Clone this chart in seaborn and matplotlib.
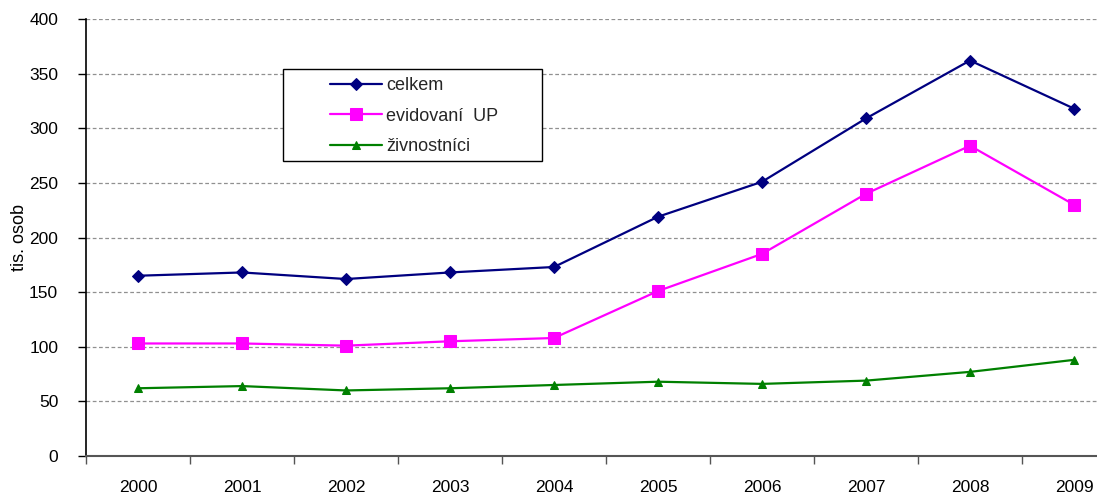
import matplotlib
matplotlib.use("Agg")
import matplotlib.pyplot as plt
import seaborn as sns
import pandas as pd
from matplotlib.patches import Rectangle
from matplotlib.ticker import MultipleLocator, FixedLocator

years = [2000, 2001, 2002, 2003, 2004, 2005, 2006, 2007, 2008, 2009]
celkem = [165, 168, 162, 168, 173, 219, 251, 309, 362, 318]
evidovani_up = [103, 103, 101, 105, 108, 151, 185, 240, 284, 230]
zivnostnici = [62, 64, 60, 62, 65, 68, 66, 69, 77, 88]

series_names = ["celkem", "evidovaní  UP", "živnostníci"]
series_values = [celkem, evidovani_up, zivnostnici]
colors = ["#000080", "#FF00FF", "#008000"]
markers = ["D", "s", "^"]
msizes = [6, 8, 6]

sns.set_style("white")
plt.rcParams["font.family"] = ["Liberation Sans", "DejaVu Sans"]

fig = plt.figure(figsize=(10.97, 4.94), dpi=100)
ax = fig.add_axes([86 / 1097, 38 / 494, 1040 / 1097, 437 / 494])

for name, vals, c, m, ms in zip(series_names, series_values, colors, markers, msizes):
    df = pd.DataFrame({"rok": years, "hodnota": vals})
    sns.lineplot(data=df, x="rok", y="hodnota", ax=ax, color=c, marker=m,
                 markersize=ms, markeredgecolor=c, linewidth=1.6, label=name)

ax.set_xlim(1999.5, 2009.5)
ax.set_ylim(0, 400)
ax.yaxis.set_major_locator(MultipleLocator(50))
ax.xaxis.set_major_locator(FixedLocator(years))
ax.xaxis.set_minor_locator(FixedLocator([y - 0.5 for y in years]))
ax.set_xticklabels([str(y) for y in years])
ax.tick_params(axis="x", which="major", bottom=True, length=0, pad=17, labelsize=12.5,
               labelcolor="#000000")
ax.tick_params(axis="x", which="minor", bottom=True, length=6, width=1, color="#555555",
               direction="out")
ax.tick_params(axis="y", which="major", left=True, length=6, width=1, color="#000000",
               direction="out", pad=14, labelsize=12.5, labelcolor="#000000")

ax.set_xlabel("")
ax.set_ylabel("tis. osob", fontsize=13, labelpad=1, color="#000000")

ax.grid(axis="y", linestyle=(0, (3, 2)), color="#909090", linewidth=0.9)
ax.grid(axis="x", visible=False)
for s in ["top", "right"]:
    ax.spines[s].set_visible(False)
ax.spines["left"].set_color("#000000")
ax.spines["left"].set_linewidth(1.2)
ax.spines["bottom"].set_color("#555555")
ax.spines["bottom"].set_linewidth(1.5)

# legend box
x0 = (283 - 86) / 1040
y0 = (456 - 161) / 437
w = (542 - 283) / 1040
h = (161 - 69) / 437
ax.add_patch(Rectangle((x0, y0), w, h, transform=ax.transAxes, facecolor="white",
                       edgecolor="black", linewidth=1.0, zorder=5))
leg = ax.legend(loc="center left", bbox_to_anchor=((330 - 86) / 1040, (456 - 116) / 437),
                frameon=False, fontsize=13, handlelength=2.9, handletextpad=0.2,
                labelspacing=0.75, borderpad=0, borderaxespad=0)
leg.set_zorder(6)

fig.savefig("out.png", dpi=100)
